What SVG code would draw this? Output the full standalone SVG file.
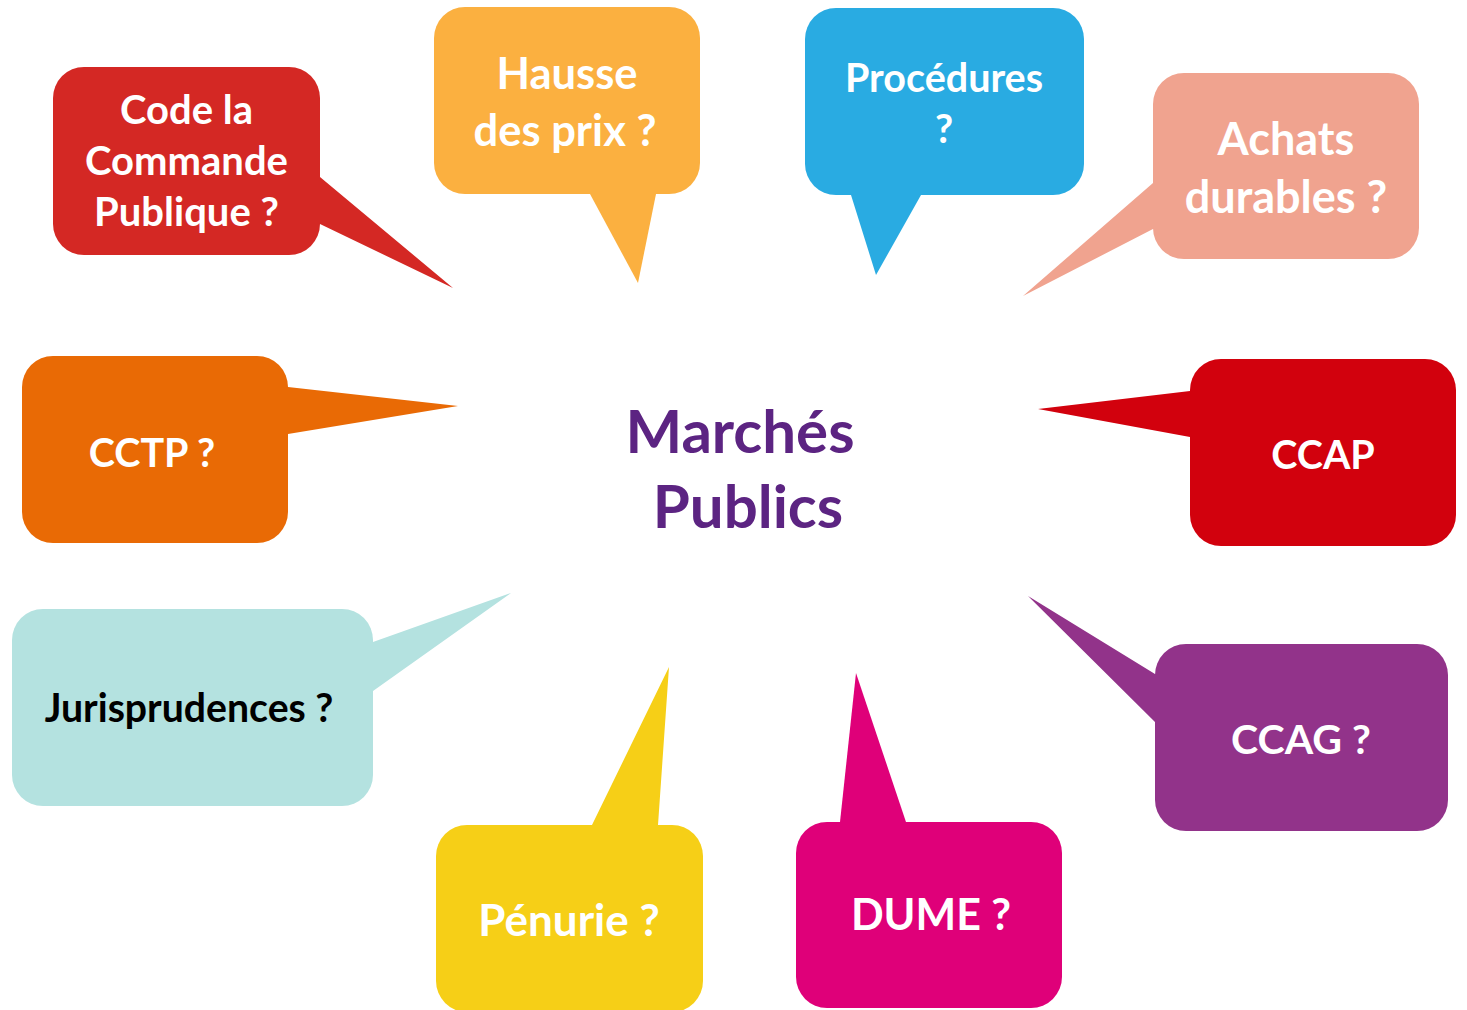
<svg xmlns="http://www.w3.org/2000/svg" width="1467" height="1010" viewBox="0 0 1467 1010">
<style>
  .t { font-family: Lato, "Liberation Sans", sans-serif; font-weight: bold; fill: #ffffff; text-anchor: middle; }
  .dark { fill: #000000; }
  .center { font-family: Lato, "Liberation Sans", sans-serif; font-weight: bold; fill: #5C2482; font-size: 60px; text-anchor: middle; }
</style>
<rect width="1467" height="1010" fill="#ffffff"/>
<g id="connectors"/>
<g id="node-code" fill="#D42824">
  <rect x="53" y="67" width="267" height="188" rx="31"/>
  <polygon points="300,177 320,177 453,288 320,224 300,224"/>
  <text class="t" font-size="40"><tspan x="186.5" y="124">Code la</tspan><tspan x="186.5" y="175">Commande</tspan><tspan x="186.5" y="226">Publique ?</tspan></text>
</g>
<g id="node-hausse" fill="#FBB040">
  <rect x="434" y="7" width="266" height="187" rx="31"/>
  <polygon points="590,180 590,194 638,283 656,194 656,180"/>
  <text class="t" font-size="43.5"><tspan x="567" y="89">Hausse</tspan><tspan x="565" y="146">des prix ?</tspan></text>
</g>
<g id="node-procedures" fill="#29ABE2">
  <rect x="805" y="8" width="279" height="187" rx="31"/>
  <polygon points="851,180 851,195 876,275 921,195 921,180"/>
  <text class="t" font-size="39.5"><tspan x="944" y="92">Procédures</tspan><tspan x="944" y="143">?</tspan></text>
</g>
<g id="node-achats" fill="#F0A38F">
  <rect x="1153" y="73" width="266" height="186" rx="31"/>
  <polygon points="1170,183 1153,183 1023,296 1153,229 1170,229"/>
  <text class="t" font-size="45"><tspan x="1286" y="155">Achats</tspan><tspan x="1286" y="213">durables ?</tspan></text>
</g>
<g id="node-cctp" fill="#E96A05">
  <rect x="22" y="356" width="266" height="187" rx="31"/>
  <polygon points="270,387 288,387 458,406 288,434 270,434"/>
  <text class="t" font-size="39.5" x="152" y="467">CCTP ?</text>
</g>
<g id="node-ccap" fill="#D2010D">
  <rect x="1190" y="359" width="266" height="187" rx="31"/>
  <polygon points="1208,391 1190,391 1038,409 1190,437 1208,437"/>
  <text class="t" font-size="39.5" x="1323" y="469">CCAP</text>
</g>
<g id="node-juris" fill="#B4E2E0">
  <rect x="12" y="609" width="361" height="197" rx="31"/>
  <polygon points="355,642 373,642 511,593 373,691 355,691"/>
  <text class="t dark" font-size="39.2" x="189" y="722">Jurisprudences ?</text>
</g>
<g id="node-ccag" fill="#92338A">
  <rect x="1155" y="644" width="293" height="187" rx="31"/>
  <polygon points="1173,674 1155,674 1028,596 1155,722 1173,722"/>
  <text class="t" font-size="41" x="1301" y="754">CCAG ?</text>
</g>
<g id="node-penurie" fill="#F6CF17">
  <rect x="436" y="825" width="267" height="187" rx="31"/>
  <polygon points="592,840 592,825 669,667 658,825 658,840"/>
  <text class="t" font-size="44" x="569" y="936">Pénurie ?</text>
</g>
<g id="node-dume" fill="#DF0079">
  <rect x="796" y="822" width="266" height="186" rx="31"/>
  <polygon points="840,837 840,822 856,673 906,822 906,837"/>
  <text class="t" font-size="43" x="931" y="930">DUME ?</text>
</g>
<g id="node-center">
  <text class="center"><tspan x="740" y="453">Marchés</tspan><tspan x="748" y="528">Publics</tspan></text>
</g>
</svg>
